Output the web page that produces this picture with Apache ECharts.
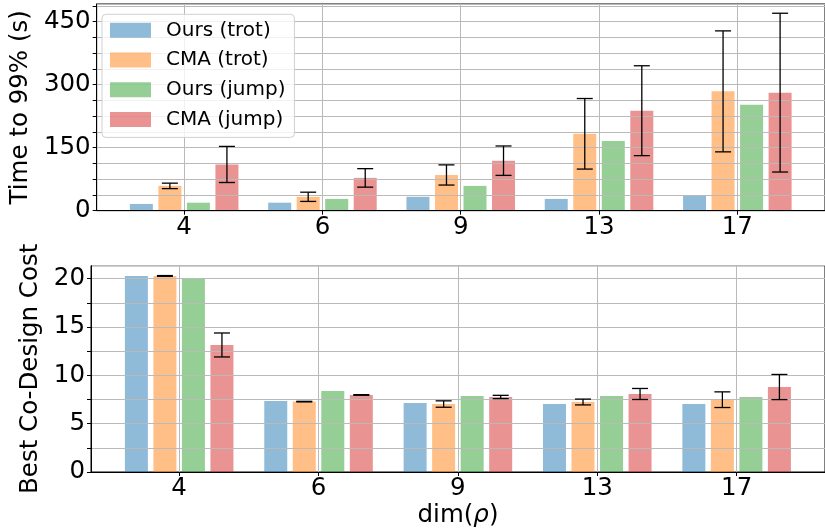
<!DOCTYPE html>
<html>
<head>
<meta charset="utf-8">
<script src="https://cdn.jsdelivr.net/npm/echarts@6/dist/echarts.min.js"></script>
<style>html,body{margin:0;padding:0;background:#fff}#c{width:825px;height:532px}</style>
</head>
<body>
<div id="c"></div>
<script>
const categories = ['4', '6', '9', '13', '17'];
const seriesNames = ['Ours (trot)', 'CMA (trot)', 'Ours (jump)', 'CMA (jump)'];

const timeOursTrot = [16, 19, 33, 28, 37];
const timeCmaTrot = [59, 33, 85, 183, 284];
const timeCmaTrotErr = [6.5, 11, 24, 84, 144];
const timeOursJump = [19, 28, 59, 166, 252];
const timeCmaJump = [110, 78, 119, 238, 281];
const timeCmaJumpErr = [43, 22, 35, 107, 189];

const costOursTrot = [20.28, 7.34, 7.14, 7.03, 7.03];
const costCmaTrot = [20.28, 7.28, 7.03, 7.24, 7.48];
const costCmaTrotErr = [0.04, 0.03, 0.33, 0.30, 0.81];
const costOursJump = [20.0, 8.38, 7.86, 7.86, 7.76];
const costCmaJump = [13.14, 7.97, 7.76, 8.07, 8.79];
const costCmaJumpErr = [1.24, 0.03, 0.17, 0.57, 1.30];

const timeTicks = [0, 150, 300, 450];
const costTicks = [0, 5, 10, 15, 20];

const colors = ['rgba(31,119,180,0.5)', 'rgba(255,127,14,0.5)', 'rgba(44,160,44,0.5)', 'rgba(214,39,40,0.5)'];
const FONT = 'DejaVu Sans';
const FS = 24.5;
const BAR_W = 23, BAR_GAP = 0.24;
const idx = categories.map((c, i) => i);

function offsetOf(k) {
  const g = BAR_W * BAR_GAP;
  const total = 4 * BAR_W + 3 * g;
  return -total / 2 + k * (BAR_W + g) + BAR_W / 2;
}

function pairs(vals) { return vals.map((v, i) => [i, v]); }

function barSeries(name, vals, k, gi) {
  return {
    name: name, type: 'bar', xAxisIndex: gi, yAxisIndex: gi,
    data: pairs(vals), barWidth: BAR_W, barGap: (BAR_GAP * 100) + '%',
    itemStyle: {color: colors[k]}, z: 2, animation: false
  };
}

function errSeries(vals, errs, k, gi) {
  return {
    type: 'custom', xAxisIndex: gi, yAxisIndex: gi, z: 10, animation: false,
    data: vals.map((v, i) => [i, v, errs[i]]),
    renderItem: function (params, api) {
      const x = api.value(0), m = api.value(1), e = api.value(2);
      const top = api.coord([x, m + e]);
      const bot = api.coord([x, m - e]);
      const cx = top[0] + offsetOf(k);
      const st = {stroke: '#000', lineWidth: 1.3};
      return {type: 'group', children: [
        {type: 'line', shape: {x1: cx, y1: top[1], x2: cx, y2: bot[1]}, style: st},
        {type: 'line', shape: {x1: cx - 8, y1: top[1], x2: cx + 8, y2: top[1]}, style: st},
        {type: 'line', shape: {x1: cx - 8, y1: bot[1], x2: cx + 8, y2: bot[1]}, style: st}
      ]};
    }
  };
}

const gridLine = {show: true, lineStyle: {color: '#bababa', width: 1}};

function xAxisDef(gi, showName) {
  return {
    type: 'value', gridIndex: gi, min: -0.6326, max: 4.634, z: 3,
    axisLine: {show: true, onZero: false, lineStyle: {color: '#000', width: 1}},
    axisTick: {show: true, customValues: idx, length: 4, lineStyle: {color: '#000'}},
    axisLabel: {customValues: idx, formatter: v => categories[Math.round(v)], fontSize: FS, fontFamily: FONT, color: '#000', margin: 4},
    splitLine: gridLine,
    name: showName ? 'dim({i|\u03c1})' : '', nameLocation: 'middle', nameGap: 31,
    nameTextStyle: {fontSize: FS, fontFamily: FONT, color: '#000',
      rich: {i: {fontSize: FS, fontFamily: FONT, fontStyle: 'italic', color: '#000'}}}
  };
}

function yAxisDef(gi, max, interval, majors, name, gap) {
  return {
    type: 'value', gridIndex: gi, min: 0, max: max, interval: interval, z: 3,
    axisLine: {show: true, onZero: false, lineStyle: {color: '#000', width: 1}},
    axisTick: {show: true, length: 4, lineStyle: {color: '#000'}},
    axisLabel: {formatter: v => (majors.indexOf(Math.round(v * 1000) / 1000) >= 0 ? String(v) : ''),
      fontSize: FS, fontFamily: FONT, color: '#000', margin: 6, showMaxLabel: false},
    splitLine: gridLine,
    name: name, nameLocation: 'middle', nameGap: gap,
    nameTextStyle: {fontSize: FS, fontFamily: FONT, color: '#000'}
  };
}

const chart = echarts.init(document.getElementById('c'), null, {renderer: 'canvas'});
chart.setOption({
  animation: false,
  backgroundColor: '#fff',
  grid: [
    {left: 91, top: 4, right: -7, height: 206.67, show: true, borderColor: '#000', borderWidth: 1, backgroundColor: 'transparent'},
    {left: 91, top: 265.7, right: -7, height: 206.3, show: true, borderColor: '#000', borderWidth: 1, backgroundColor: 'transparent'}
  ],
  legend: {
    orient: 'vertical', left: 102, top: 14.3,
    data: seriesNames, icon: 'rect', itemWidth: 41, itemHeight: 15, itemGap: 9.7,
    padding: [6, 9, 8, 8],
    backgroundColor: 'rgba(255,255,255,0.8)', borderColor: '#d0d0d0', borderWidth: 1, borderRadius: 4,
    textStyle: {fontSize: 20, fontFamily: FONT, color: '#000', padding: [0, 0, 0, 10], lineHeight: 20},
    z: 20
  },
  xAxis: [xAxisDef(0, false), xAxisDef(1, true)],
  yAxis: [
    yAxisDef(0, 492, 37.5, timeTicks, 'Time to 99% (s)', 57),
    yAxisDef(1, 21.34, 2.5, costTicks, 'Best Co-Design Cost', 41)
  ],
  series: [
    barSeries(seriesNames[0], timeOursTrot, 0, 0),
    barSeries(seriesNames[1], timeCmaTrot, 1, 0),
    barSeries(seriesNames[2], timeOursJump, 2, 0),
    barSeries(seriesNames[3], timeCmaJump, 3, 0),
    errSeries(timeCmaTrot, timeCmaTrotErr, 1, 0),
    errSeries(timeCmaJump, timeCmaJumpErr, 3, 0),
    barSeries(seriesNames[0], costOursTrot, 0, 1),
    barSeries(seriesNames[1], costCmaTrot, 1, 1),
    barSeries(seriesNames[2], costOursJump, 2, 1),
    barSeries(seriesNames[3], costCmaJump, 3, 1),
    errSeries(costCmaTrot, costCmaTrotErr, 1, 1),
    errSeries(costCmaJump, costCmaJumpErr, 3, 1)
  ]
});
</script>
</body>
</html>
